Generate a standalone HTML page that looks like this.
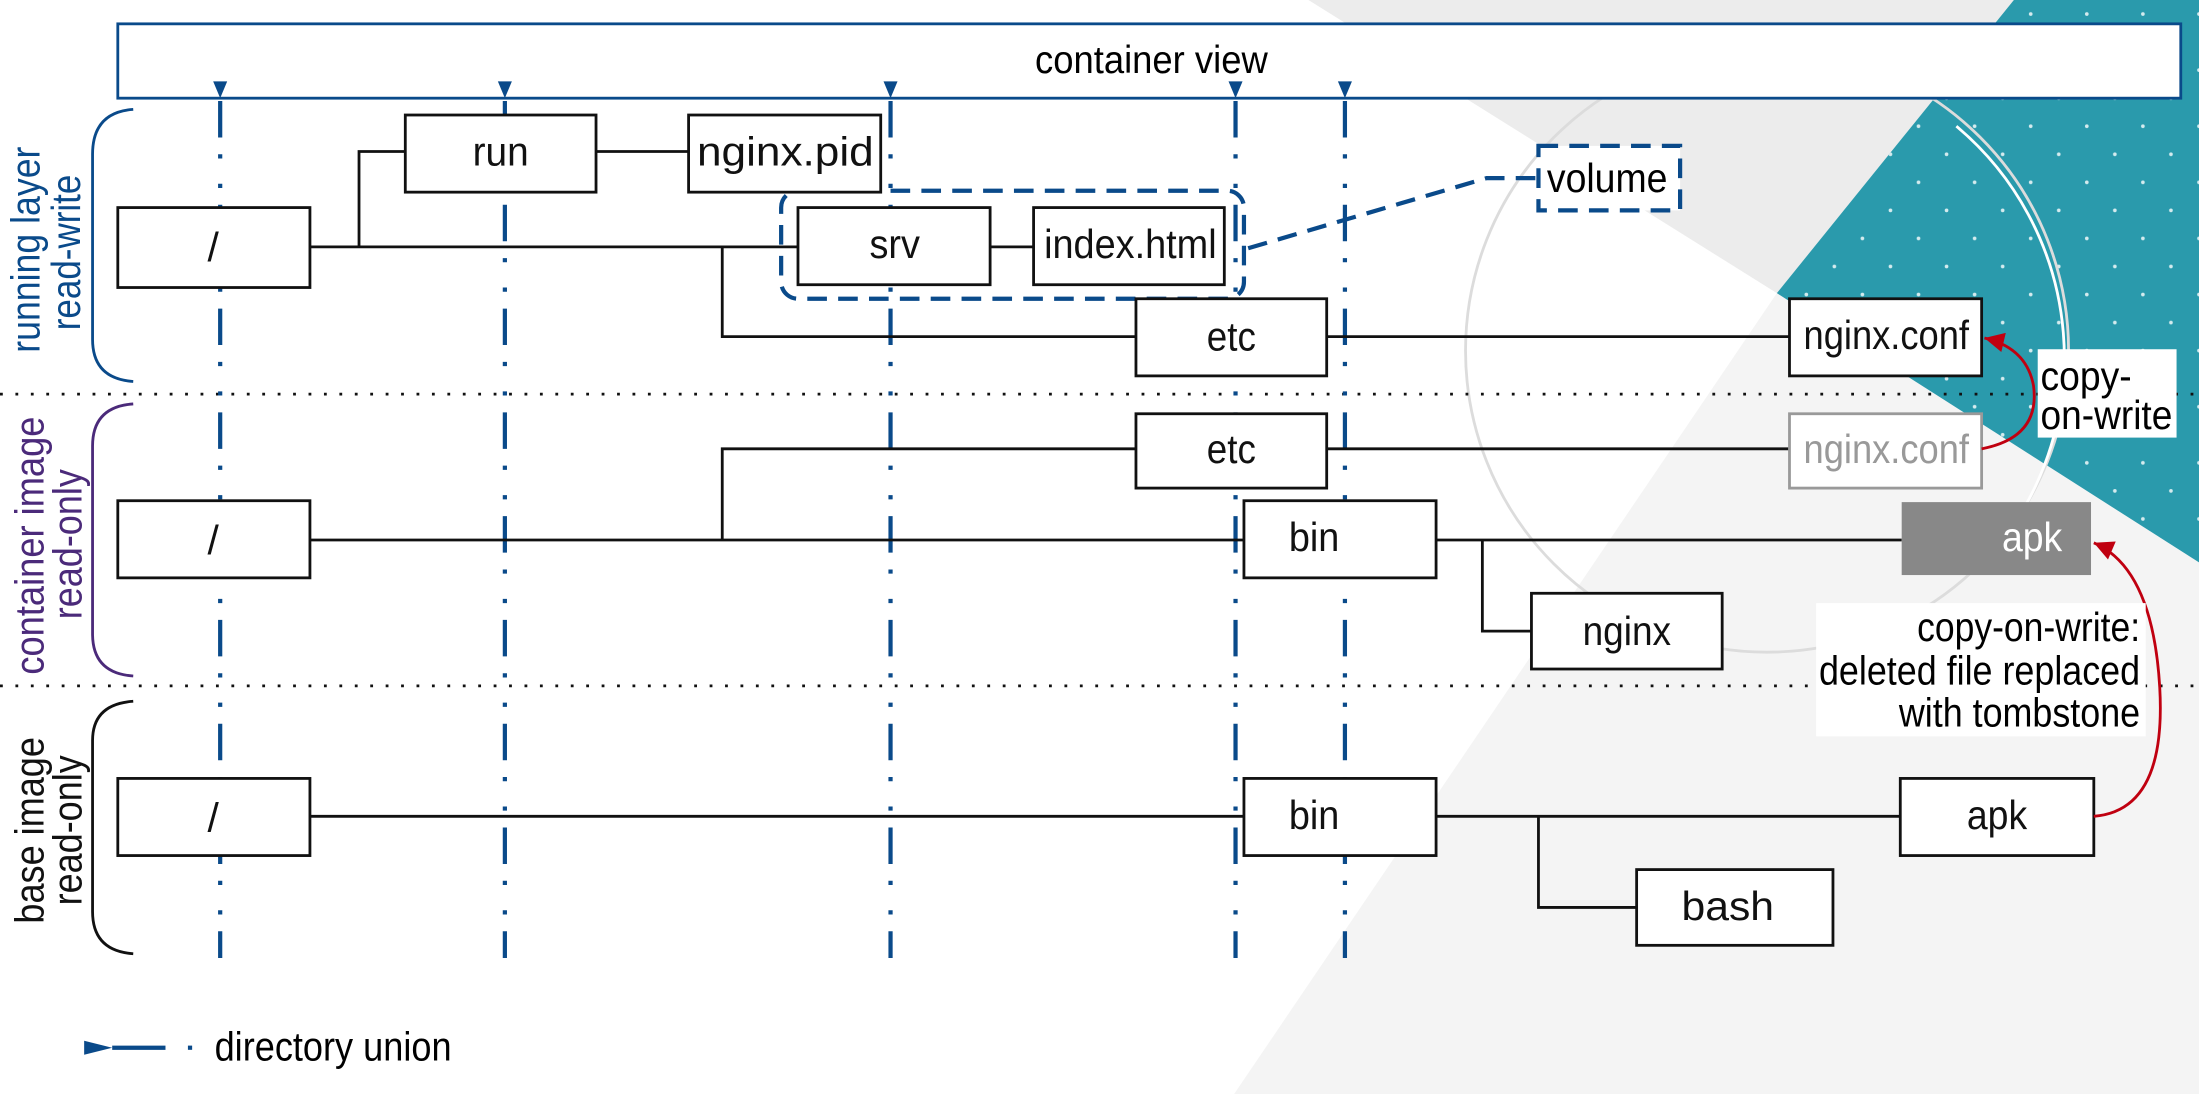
<!DOCTYPE html>
<html><head><meta charset="utf-8"><style>
html,body{margin:0;padding:0;background:#fff;}
svg{display:block;}
text{font-family:"Liberation Sans",sans-serif;}
</style></head><body>
<svg width="2199" height="1094" viewBox="0 0 1568 780" preserveAspectRatio="none" xmlns="http://www.w3.org/2000/svg">
<defs>
<pattern id="dots" width="40" height="40" patternUnits="userSpaceOnUse">
<circle cx="8" cy="10" r="1.3" fill="#fff" opacity="0.8"/><circle cx="28" cy="30" r="1.3" fill="#fff" opacity="0.8"/>
</pattern>
<marker id="bl" viewBox="0 0 10 10" refX="10" refY="5" markerWidth="18" markerHeight="14" orient="auto" markerUnits="userSpaceOnUse">
<path d="M0,0 L10,5 L0,10 z" fill="#c00010"/></marker>
</defs>
<!-- background -->
<rect width="1568" height="780" fill="#ffffff"/>
<polygon points="1267,209 1568,401 1568,780 880,780" fill="#f4f4f4"/>
<polygon points="933,0 1436,0 1267,209" fill="#ececec"/>
<polygon points="1436,0 1568,0 1568,401 1267,209" fill="#2a9aac"/>
<polygon points="1436,0 1568,0 1568,401 1267,209" fill="url(#dots)"/>
<circle cx="1260" cy="250" r="215" fill="none" stroke="#dcdcdc" stroke-width="2"/>
<path d="M1395,90 A215,215 0 0 1 1420,395" fill="none" stroke="#fff" stroke-width="2"/>

<!-- container view -->
<rect x="84" y="17" width="1471" height="53" fill="#fff" stroke="#0a4a8a" stroke-width="2"/>
<text x="821" y="52" font-size="28" text-anchor="middle" textLength="166" lengthAdjust="spacingAndGlyphs">container view</text>

<!-- dotted separators -->
<line x1="0" y1="281" x2="1568" y2="281" stroke="#111" stroke-width="2" stroke-dasharray="2 9"/>
<line x1="0" y1="489" x2="1568" y2="489" stroke="#111" stroke-width="2" stroke-dasharray="2 9"/>

<!-- union lines -->
<g stroke="#0a4a8a" stroke-width="3" stroke-dasharray="26 12 3 18 3 12">
<line x1="157" y1="72" x2="157" y2="683"/>
<line x1="360" y1="72" x2="360" y2="683"/>
<line x1="635" y1="72" x2="635" y2="683"/>
<line x1="881" y1="72" x2="881" y2="683"/>
<line x1="959" y1="72" x2="959" y2="683"/>
</g>
<g fill="#0a4a8a">
<polygon points="152,58 162,58 157,70"/>
<polygon points="355,58 365,58 360,70"/>
<polygon points="630,58 640,58 635,70"/>
<polygon points="876,58 886,58 881,70"/>
<polygon points="954,58 964,58 959,70"/>
</g>

<!-- braces -->
<path d="M95,78 Q66,80 66,110 L66,242 Q66,270 95,272" fill="none" stroke="#0a4a8a" stroke-width="2"/>
<path d="M95,288 Q66,290 66,318 L66,452 Q66,480 95,482" fill="none" stroke="#4b2a7a" stroke-width="2"/>
<path d="M95,500 Q66,502 66,528 L66,650 Q66,678 95,680" fill="none" stroke="#111" stroke-width="2"/>
<g font-size="29">
<text transform="translate(28,178) rotate(-90)" text-anchor="middle" fill="#0a4a8a" textLength="147" lengthAdjust="spacingAndGlyphs">running layer</text>
<text transform="translate(57,180) rotate(-90)" text-anchor="middle" fill="#0a4a8a" textLength="111" lengthAdjust="spacingAndGlyphs">read-write</text>
<text transform="translate(31,389) rotate(-90)" text-anchor="middle" fill="#4b2a7a" textLength="184" lengthAdjust="spacingAndGlyphs">container image</text>
<text transform="translate(58,388) rotate(-90)" text-anchor="middle" fill="#4b2a7a" textLength="107" lengthAdjust="spacingAndGlyphs">read-only</text>
<text transform="translate(31,592) rotate(-90)" text-anchor="middle" fill="#111" textLength="133" lengthAdjust="spacingAndGlyphs">base image</text>
<text transform="translate(58,592) rotate(-90)" text-anchor="middle" fill="#111" textLength="107" lengthAdjust="spacingAndGlyphs">read-only</text>
</g>

<!-- connectors -->
<g stroke="#111" stroke-width="2" fill="none">
<path d="M221,176 H569 M256,176 V108 H289 M425,108 H491 M515,176 V240 H810 M946,240 H1276 M706,176 H737"/>
<path d="M221,385 H887 M515,385 V320 H810 M946,320 H1276 M1024,385 H1356 M1057,385 V450 H1092"/>
<path d="M221,582 H887 M1024,582 H1355 M1097,582 V647 H1167"/>
</g>

<!-- volume group -->
<rect x="557" y="136" width="330" height="77" rx="12" fill="none" stroke="#0a4a8a" stroke-width="3" stroke-dasharray="14 8"/>
<path d="M890,177 L1060,127 H1097" fill="none" stroke="#0a4a8a" stroke-width="3" stroke-dasharray="14 8"/>
<rect x="1097" y="104" width="101" height="46" fill="#fff" stroke="#0a4a8a" stroke-width="3" stroke-dasharray="14 8"/>
<text x="1146" y="137" font-size="29" text-anchor="middle" textLength="86" lengthAdjust="spacingAndGlyphs">volume</text>

<!-- boxes -->
<g stroke="#111" stroke-width="2" fill="#fff">
<rect x="84" y="148" width="137" height="57"/>
<rect x="289" y="82" width="136" height="55"/>
<rect x="491" y="82" width="137" height="55"/>
<rect x="569" y="148" width="137" height="55"/>
<rect x="737" y="148" width="136" height="55"/>
<rect x="810" y="213" width="136" height="55"/>
<rect x="1276" y="213" width="137" height="55"/>
<rect x="810" y="295" width="136" height="53"/>
<rect x="84" y="357" width="137" height="55"/>
<rect x="887" y="357" width="137" height="55"/>
<rect x="1092" y="423" width="136" height="54"/>
<rect x="84" y="555" width="137" height="55"/>
<rect x="887" y="555" width="137" height="55"/>
<rect x="1355" y="555" width="138" height="55"/>
<rect x="1167" y="620" width="140" height="54"/>
</g>
<rect x="1276" y="295" width="137" height="53" fill="#fff" stroke="#999" stroke-width="2"/>
<rect x="1356" y="358" width="135" height="52" fill="#888"/>

<g font-size="29" text-anchor="middle" fill="#111" lengthAdjust="spacingAndGlyphs">
<text x="152" y="186">/</text>
<text x="357" y="118" textLength="40" lengthAdjust="spacingAndGlyphs">run</text>
<text x="560" y="118" textLength="126" lengthAdjust="spacingAndGlyphs">nginx.pid</text>
<text x="638" y="184" textLength="36" lengthAdjust="spacingAndGlyphs">srv</text>
<text x="806" y="184" textLength="123" lengthAdjust="spacingAndGlyphs">index.html</text>
<text x="878" y="250" textLength="35" lengthAdjust="spacingAndGlyphs">etc</text>
<text x="1345" y="249" textLength="118" lengthAdjust="spacingAndGlyphs">nginx.conf</text>
<text x="878" y="330" textLength="35" lengthAdjust="spacingAndGlyphs">etc</text>
<text x="1345" y="330" fill="#999" textLength="118" lengthAdjust="spacingAndGlyphs">nginx.conf</text>
<text x="152" y="395">/</text>
<text x="937" y="393" textLength="36" lengthAdjust="spacingAndGlyphs">bin</text>
<text x="1449" y="393" fill="#fff" textLength="43" lengthAdjust="spacingAndGlyphs">apk</text>
<text x="1160" y="460" textLength="63" lengthAdjust="spacingAndGlyphs">nginx</text>
<text x="152" y="593">/</text>
<text x="937" y="591" textLength="36" lengthAdjust="spacingAndGlyphs">bin</text>
<text x="1424" y="591" textLength="43" lengthAdjust="spacingAndGlyphs">apk</text>
<text x="1232" y="656" textLength="66" lengthAdjust="spacingAndGlyphs">bash</text>
</g>

<!-- copy-on-write -->
<path d="M1413,320 Q1455,312 1450,275 Q1445,248 1415,241" fill="none" stroke="#c00010" stroke-width="2" marker-end="url(#bl)"/>
<rect x="1453" y="249" width="99" height="63" fill="#fff"/>
<text x="1455" y="278" font-size="29" textLength="65" lengthAdjust="spacingAndGlyphs">copy-</text>
<text x="1455" y="306" font-size="29" textLength="94" lengthAdjust="spacingAndGlyphs">on-write</text>
<path d="M1493,582 Q1545,578 1540,490 Q1535,405 1493,387" fill="none" stroke="#c00010" stroke-width="2" marker-end="url(#bl)"/>
<rect x="1295" y="430" width="235" height="95" fill="#fff"/>
<g font-size="29" text-anchor="end">
<text x="1526" y="457" textLength="159" lengthAdjust="spacingAndGlyphs">copy-on-write:</text>
<text x="1526" y="488" textLength="229" lengthAdjust="spacingAndGlyphs">deleted file replaced</text>
<text x="1526" y="518" textLength="172" lengthAdjust="spacingAndGlyphs">with tombstone</text>
</g>

<!-- legend -->
<polygon points="60,742 80,747 60,752" fill="#0a4a8a"/>
<line x1="80" y1="747" x2="118" y2="747" stroke="#0a4a8a" stroke-width="3"/>
<rect x="134" y="745.5" width="3" height="3" fill="#0a4a8a"/>
<text x="153" y="756" font-size="29" textLength="169" lengthAdjust="spacingAndGlyphs">directory union</text>
</svg>
</body></html>
